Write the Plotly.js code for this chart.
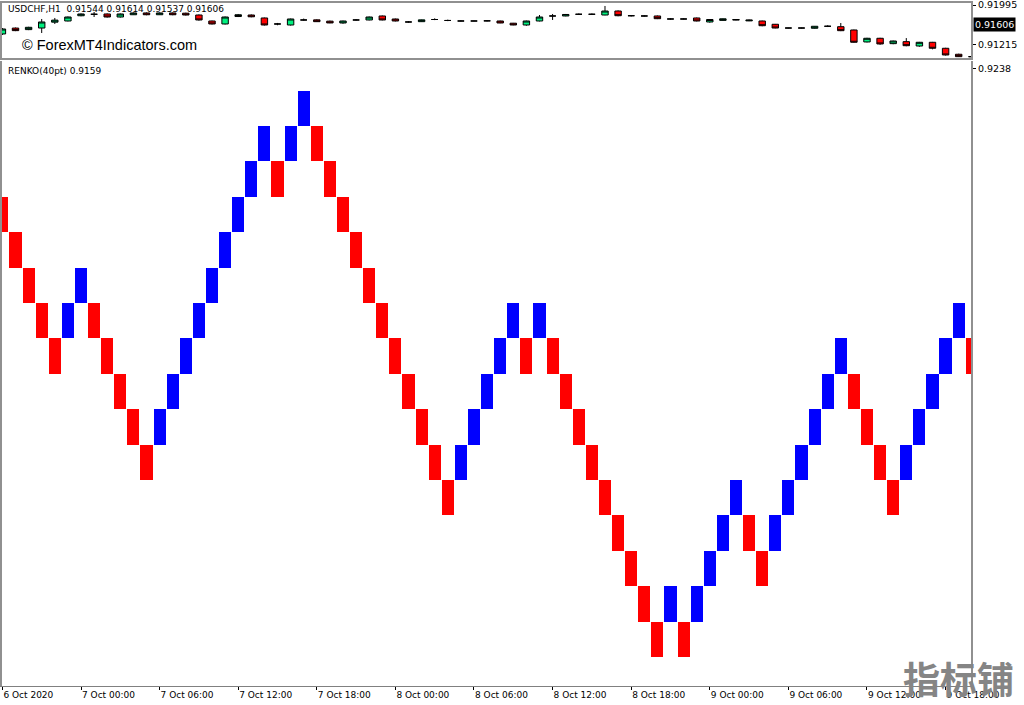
<!DOCTYPE html>
<html>
<head>
<meta charset="utf-8">
<script src="https://cdn.plot.ly/plotly-3.0.1.min.js"></script>
<style>html,body{margin:0;padding:0;background:#fff;}#chart{width:1024px;height:705px;}</style>
</head>
<body>
<div id="chart"></div>
<script>
// ---- Time axis (hourly bars, H1) ----
const tickIndex = [0, 6, 12, 18, 24, 30, 36, 42, 48, 54, 60, 66, 72];
const tickLabels = ["6 Oct 2020", "7 Oct 00:00", "7 Oct 06:00", "7 Oct 12:00", "7 Oct 18:00",
  "8 Oct 00:00", "8 Oct 06:00", "8 Oct 12:00", "8 Oct 18:00",
  "9 Oct 00:00", "9 Oct 06:00", "9 Oct 12:00", "9 Oct 18:00"];

// ---- USDCHF H1 candles (top panel) ----
const candleOpen = [0.91430,0.91545,0.91515,0.91546,0.91660,0.91683,0.91785,0.91814,0.91820,0.91761,
  0.91805,0.91840,0.91805,0.91840,0.91835,0.91800,0.91683,0.91625,0.91770,0.91800,
  0.91742,0.91625,0.91605,0.91703,0.91705,0.91680,0.91644,0.91703,0.91703,0.91781,
  0.91722,0.91664,0.91670,0.91712,0.91693,0.91683,0.91683,0.91686,0.91683,0.91640,
  0.91605,0.91683,0.91781,0.91781,0.91814,0.91814,0.91800,0.91878,0.91786,0.91781,
  0.91781,0.91722,0.91722,0.91742,0.91664,0.91695,0.91700,0.91685,0.91683,0.91619,
  0.91546,0.91546,0.91541,0.91580,0.91572,0.91508,0.91274,0.91346,0.91241,0.91280,
  0.91195,0.91268,0.91151,0.91034,0.90987];
const candleHigh = [0.91546,0.91555,0.91570,0.91722,0.91742,0.91770,0.91830,0.91859,0.91830,0.91830,
  0.91850,0.91850,0.91850,0.91850,0.91845,0.91810,0.91690,0.91770,0.91820,0.91810,
  0.91750,0.91645,0.91730,0.91730,0.91715,0.91690,0.91690,0.91720,0.91770,0.91790,
  0.91730,0.91680,0.91710,0.91735,0.91710,0.91695,0.91686,0.91700,0.91690,0.91645,
  0.91690,0.91800,0.91820,0.91820,0.91830,0.91830,0.91976,0.91890,0.91800,0.91795,
  0.91790,0.91735,0.91735,0.91750,0.91720,0.91730,0.91720,0.91710,0.91690,0.91625,
  0.91550,0.91552,0.91585,0.91600,0.91644,0.91515,0.91355,0.91355,0.91300,0.91350,
  0.91275,0.91275,0.91160,0.91045,0.91000];
const candleLow = [0.91410,0.91485,0.91505,0.91449,0.91625,0.91675,0.91775,0.91761,0.91750,0.91750,
  0.91800,0.91795,0.91800,0.91795,0.91790,0.91690,0.91615,0.91615,0.91760,0.91755,
  0.91595,0.91600,0.91595,0.91690,0.91665,0.91640,0.91630,0.91690,0.91695,0.91695,
  0.91675,0.91650,0.91665,0.91700,0.91680,0.91675,0.91680,0.91675,0.91640,0.91600,
  0.91590,0.91675,0.91703,0.91775,0.91800,0.91800,0.91795,0.91775,0.91770,0.91770,
  0.91720,0.91710,0.91715,0.91675,0.91650,0.91690,0.91695,0.91680,0.91580,0.91540,
  0.91540,0.91540,0.91535,0.91565,0.91485,0.91260,0.91265,0.91220,0.91230,0.91190,
  0.91180,0.91130,0.91010,0.90980,0.90975];
const candleClose = [0.91527,0.91495,0.91560,0.91664,0.91700,0.91761,0.91820,0.91814,0.91761,0.91820,
  0.91840,0.91805,0.91840,0.91805,0.91800,0.91703,0.91625,0.91761,0.91805,0.91765,
  0.91605,0.91625,0.91722,0.91703,0.91670,0.91645,0.91683,0.91703,0.91761,0.91703,
  0.91683,0.91664,0.91705,0.91712,0.91693,0.91683,0.91683,0.91686,0.91644,0.91605,
  0.91683,0.91761,0.91781,0.91810,0.91814,0.91814,0.91878,0.91786,0.91786,0.91781,
  0.91728,0.91722,0.91722,0.91683,0.91712,0.91725,0.91712,0.91700,0.91591,0.91546,
  0.91546,0.91546,0.91580,0.91580,0.91494,0.91268,0.91346,0.91235,0.91293,0.91201,
  0.91268,0.91151,0.91020,0.90987,0.90987];
const topTickVals = [0.91995, 0.91215];
const topTickText = ["0.91995", "0.91215"];
const lastPrice = 0.91606;

// ---- RENKO(40pt) bricks (main panel) ----
const renkoOpen = [0.9179,0.9175,0.9171,0.9167,0.9163,0.9163,0.9167,0.9167,0.9163,0.9159,
  0.9155,0.9151,0.9151,0.9155,0.9159,0.9163,0.9167,0.9171,0.9175,0.9179,
  0.9183,0.9183,0.9183,0.9187,0.9187,0.9183,0.9179,0.9175,0.9171,0.9167,
  0.9163,0.9159,0.9155,0.9151,0.9147,0.9147,0.9151,0.9155,0.9159,0.9163,
  0.9163,0.9163,0.9163,0.9159,0.9155,0.9151,0.9147,0.9143,0.9139,0.9135,
  0.9131,0.9131,0.9131,0.9131,0.9135,0.9139,0.9143,0.9143,0.9139,0.9139,
  0.9143,0.9147,0.9151,0.9155,0.9159,0.9159,0.9155,0.9151,0.9147,0.9147,
  0.9151,0.9155,0.9159,0.9163,0.9163];
const renkoClose = [0.9175,0.9171,0.9167,0.9163,0.9159,0.9167,0.9171,0.9163,0.9159,0.9155,
  0.9151,0.9147,0.9155,0.9159,0.9163,0.9167,0.9171,0.9175,0.9179,0.9183,
  0.9187,0.9179,0.9187,0.9191,0.9183,0.9179,0.9175,0.9171,0.9167,0.9163,
  0.9159,0.9155,0.9151,0.9147,0.9143,0.9151,0.9155,0.9159,0.9163,0.9167,
  0.9159,0.9167,0.9159,0.9155,0.9151,0.9147,0.9143,0.9139,0.9135,0.9131,
  0.9127,0.9135,0.9127,0.9135,0.9139,0.9143,0.9147,0.9139,0.9135,0.9143,
  0.9147,0.9151,0.9155,0.9159,0.9163,0.9155,0.9151,0.9147,0.9143,0.9151,
  0.9155,0.9159,0.9163,0.9167,0.9159];
const renkoTickVals = [0.919344];
const renkoTickText = ["0.9238"];
const renkoLabel = "RENKO(40pt) 0.9159";
const headerLabel = "USDCHF,H1  0.91544 0.91614 0.91537 0.91606";

const xs = renkoOpen.map((_, i) => i);
const cx = candleOpen.map((_, i) => i);

const font = "DejaVu Sans, Tahoma, sans-serif";

const candles = {
  type: 'candlestick', x: cx, open: candleOpen, high: candleHigh, low: candleLow, close: candleClose,
  xaxis: 'x2', yaxis: 'y2',
  increasing: {line: {color: '#000000', width: 1}, fillcolor: '#00f07f'},
  decreasing: {line: {color: '#000000', width: 1}, fillcolor: '#ff0000'},
  whiskerwidth: 0, hoverinfo: 'skip', showlegend: false
};

const bricks = {
  type: 'bar', x: xs,
  base: renkoOpen.map((o, i) => Math.min(o, renkoClose[i])),
  y: renkoOpen.map((o, i) => Math.abs(renkoClose[i] - o)),
  marker: {color: renkoOpen.map((o, i) => renkoClose[i] > o ? '#0000ff' : '#ff0000'), line: {width: 0}},
  width: 0.93, xaxis: 'x', yaxis: 'y', hoverinfo: 'skip', showlegend: false
};

const xr = [-0.0305, 73.94];

const layout = {
  width: 1024, height: 705,
  margin: {l: 2, r: 53, t: 3, b: 19, pad: 0},
  paper_bgcolor: '#ffffff', plot_bgcolor: '#ffffff',
  showlegend: false, bargap: 0,
  font: {family: font, size: 9, color: '#000'},
  xaxis: {
    domain: [0, 1], range: xr, anchor: 'y',
    tickvals: tickIndex, ticktext: tickLabels, ticklabelposition: 'outside right',
    ticks: 'outside', ticklen: 3, tickcolor: '#000', tickwidth: 1,
    showgrid: false, zeroline: false, showline: true, linecolor: '#808080', linewidth: 1,
    tickfont: {family: font, size: 9, color: '#000'}, ticklabeloverflow: 'allow', fixedrange: true
  },
  yaxis: {
    domain: [0, 0.9151], range: [0.9123723, 0.9194345], side: 'right', anchor: 'x',
    tickvals: renkoTickVals, ticktext: renkoTickText,
    ticks: 'outside', ticklen: 3, tickcolor: '#000',
    showgrid: false, zeroline: false, showline: true, linecolor: '#909090', linewidth: 2, mirror: true,
    tickfont: {family: font, size: 9.5, color: '#000'}, ticklabeloverflow: 'allow'
  },
  xaxis2: {
    domain: [0, 1], range: xr, anchor: 'y2', matches: 'x',
    showticklabels: false, ticks: '', showgrid: false, zeroline: false,
    showline: true, linecolor: '#909090', linewidth: 2, mirror: true,
    rangeslider: {visible: false}
  },
  yaxis2: {
    domain: [0.9195, 1], range: [0.909615, 0.92034], side: 'right', anchor: 'x2',
    tickvals: topTickVals, ticktext: topTickText,
    ticks: 'outside', ticklen: 3, tickcolor: '#000',
    showgrid: false, zeroline: false, showline: true, linecolor: '#909090', linewidth: 2, mirror: true,
    tickfont: {family: font, size: 9.5, color: '#000'}, ticklabeloverflow: 'allow'
  },
  annotations: [
    {xref: 'paper', yref: 'paper', x: 0.0041, y: 0.9905, xanchor: 'left', yanchor: 'middle',
      text: headerLabel, showarrow: false, font: {family: font, size: 9, color: '#000'}},
    {xref: 'paper', yref: 'paper', x: 0.0186, y: 0.9385, xanchor: 'left', yanchor: 'middle',
      text: '© ForexMT4Indicators.com', showarrow: false,
      font: {family: 'Liberation Sans, Arial, sans-serif', size: 14.5, color: '#000'}},
    {xref: 'paper', yref: 'paper', x: 0.0041, y: 0.9004, xanchor: 'left', yanchor: 'middle',
      text: renkoLabel, showarrow: false, font: {family: font, size: 9, color: '#000'}},
    {xref: 'paper', yref: 'y2', x: 1.0021, y: lastPrice, xanchor: 'left', yanchor: 'middle',
      text: lastPrice.toFixed(5), showarrow: false, bgcolor: '#000000', borderpad: 1,
      font: {family: font, size: 9.5, color: '#ffffff'}},
    {xref: 'paper', yref: 'paper', x: 0.9866, y: 0.0115, xanchor: 'center', yanchor: 'middle',
      text: '<b>指标铺</b>', showarrow: false,
      font: {family: 'Noto Sans CJK SC, sans-serif', size: 37, color: '#858585'}}
  ]
};

Plotly.newPlot('chart', [bricks, candles], layout, {staticPlot: true, displayModeBar: false});
</script>
</body>
</html>
